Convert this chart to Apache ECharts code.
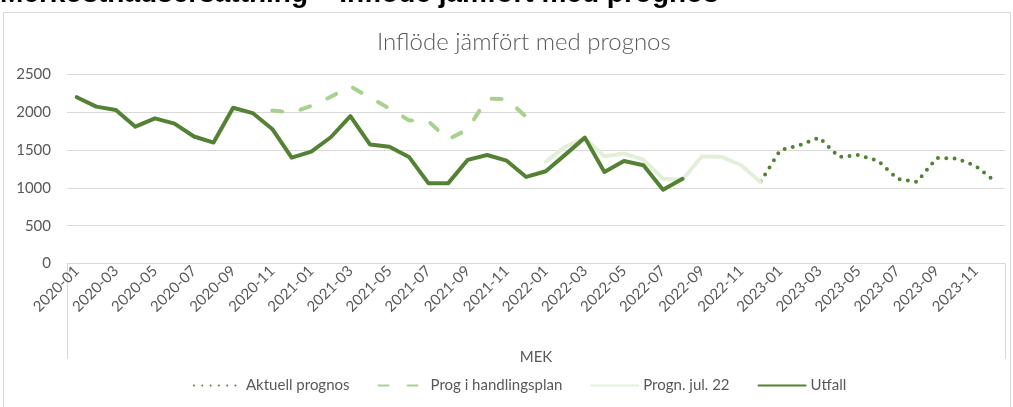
<!DOCTYPE html>
<html lang="sv">
<head>
  <meta charset="UTF-8">
  <title>Inflöde jämfört med prognos</title>
  <script src="https://cdn.jsdelivr.net/npm/echarts@6/dist/echarts.min.js"></script>
  <style>
    html, body { margin: 0; padding: 0; background: #fff; }
  </style>
</head>
<body>
<div id="main" style="width:1013px;height:407px;"></div>
</body>
</html>
<script>
  // månader på x-axeln
  const months = [
    '2020-01', '2020-02', '2020-03', '2020-04', '2020-05', '2020-06', '2020-07', '2020-08', '2020-09', '2020-10', '2020-11', '2020-12',
    '2021-01', '2021-02', '2021-03', '2021-04', '2021-05', '2021-06', '2021-07', '2021-08', '2021-09', '2021-10', '2021-11', '2021-12',
    '2022-01', '2022-02', '2022-03', '2022-04', '2022-05', '2022-06', '2022-07', '2022-08', '2022-09', '2022-10', '2022-11', '2022-12',
    '2023-01', '2023-02', '2023-03', '2023-04', '2023-05', '2023-06', '2023-07', '2023-08', '2023-09', '2023-10', '2023-11', '2023-12'
  ];
  // utfall, från 2020-01
  const utfall = [2200, 2075, 2030, 1810, 1920, 1850, 1680, 1600, 2060, 1990, 1780, 1400,
    1480, 1670, 1950, 1575, 1545, 1410, 1060, 1060, 1370, 1435, 1360, 1145,
    1220, 1440, 1665, 1210, 1355, 1300, 975, 1120];
  // prognos i handlingsplan, från 2020-11
  const progHandlingsplan = [2025, 1995, 2085, 2205, 2345, 2195, 2050, 1895, 1880, 1640, 1775, 2180, 2175, 1940];
  const progHandlingsplanStart = '2020-11';
  // prognos från juli 22, från 2022-01
  const prognJul22 = [1345, 1545, 1660, 1420, 1455, 1375, 1120, 1110, 1420, 1410, 1300, 1075];
  const prognJul22Start = '2022-01';
  // aktuell prognos, från 2022-12
  const aktuellPrognos = [1085, 1500, 1565, 1665, 1410, 1435, 1360, 1120, 1080, 1395, 1390, 1290, 1085];
  const aktuellPrognosStart = '2022-12';

  //lägger in värden på rätt månad, null annars
  function pad(values, start) {
    const offset = months.indexOf(start);
    return months.map((m, i) => {
      const v = values[i - offset];
      return v === undefined ? null : v;
    });
  }

  const grey = '#595959';
  const font = 'Lato';

  let myChart = echarts.init(document.getElementById('main'));
  let option = {
    backgroundColor: '#fff',
    animation: false,
    textStyle: { fontFamily: font },
    title: {
      text: 'Inflöde jämfört med prognos',
      left: 372,
      top: 25,
      textStyle: { fontFamily: font, fontSize: 24, fontWeight: 300, color: grey }
    },
    graphic: [
      // yttre ram
      { type: 'rect', shape: { x: 3.5, y: 12.5, width: 1007, height: 420 }, style: { fill: 'none', stroke: '#d9d9d9', lineWidth: 1 }, silent: true },
      // rubrik som är avskuren upptill
      { type: 'text', x: 0, y: -6, style: { text: 'Merkostnadsersättning – Inflöde jämfört med prognos', font: 'bold 28px "Liberation Sans"', fill: '#000', verticalAlign: 'middle' }, silent: true },
      // kantlinjer vid kategoriaxeln
      { type: 'line', shape: { x1: 67.5, y1: 263.5, x2: 67.5, y2: 359 }, style: { stroke: '#d9d9d9', lineWidth: 1 }, silent: true },
      { type: 'line', shape: { x1: 1005.5, y1: 263.5, x2: 1005.5, y2: 359 }, style: { stroke: '#d9d9d9', lineWidth: 1 }, silent: true }
    ],
    legend: {
      left: 188,
      top: 373,
      itemWidth: 47,
      itemHeight: 14,
      itemGap: 28,
      itemStyle: { opacity: 0 },
      textStyle: { fontFamily: font, fontSize: 15, color: grey },
      data: ['Aktuell prognos', 'Prog i handlingsplan', 'Progn. jul. 22', 'Utfall']
    },
    grid: {
      left: 67,
      right: 8,
      top: 74.5,
      bottom: 143.5,
      containLabel: false,
      outerBoundsMode: 'none'
    },
    xAxis: {
      type: 'category',
      data: months,
      boundaryGap: true,
      name: 'MEK',
      nameLocation: 'middle',
      nameGap: 86,
      nameTextStyle: { fontFamily: font, fontSize: 15, color: grey },
      axisLine: { lineStyle: { color: '#d9d9d9', width: 1 } },
      axisTick: { show: false },
      axisLabel: { interval: 1, rotate: 45, margin: 5, color: grey, fontFamily: font, fontSize: 15 }
    },
    yAxis: {
      type: 'value',
      min: 0,
      max: 2500,
      interval: 500,
      axisLine: { show: false },
      axisTick: { show: false },
      axisLabel: { margin: 16, color: grey, fontFamily: font, fontSize: 15, formatter: (v) => String(v) },
      splitLine: { lineStyle: { color: '#d9d9d9', width: 1 } }
    },
    series: [
      {
        name: 'Aktuell prognos',
        type: 'line',
        symbol: 'none',
        data: pad(aktuellPrognos, aktuellPrognosStart),
        lineStyle: { color: '#548235', width: 4, type: [0, 8.3], cap: 'round' },
        itemStyle: { color: '#548235' }
      },
      {
        name: 'Prog i handlingsplan',
        type: 'line',
        symbol: 'none',
        data: pad(progHandlingsplan, progHandlingsplanStart),
        lineStyle: { color: '#a9d18e', width: 4, type: [10, 19], cap: 'round' },
        itemStyle: { color: '#a9d18e' }
      },
      {
        name: 'Progn. jul. 22',
        type: 'line',
        symbol: 'none',
        data: pad(prognJul22, prognJul22Start),
        lineStyle: { color: '#e2f0d9', width: 4, cap: 'round', join: 'round' },
        itemStyle: { color: '#e2f0d9' }
      },
      {
        name: 'Utfall',
        type: 'line',
        symbol: 'none',
        data: pad(utfall, '2020-01'),
        lineStyle: { color: '#548235', width: 4, cap: 'round', join: 'round' },
        itemStyle: { color: '#548235' }
      }
    ]
  };
  myChart.setOption(option);
</script>
